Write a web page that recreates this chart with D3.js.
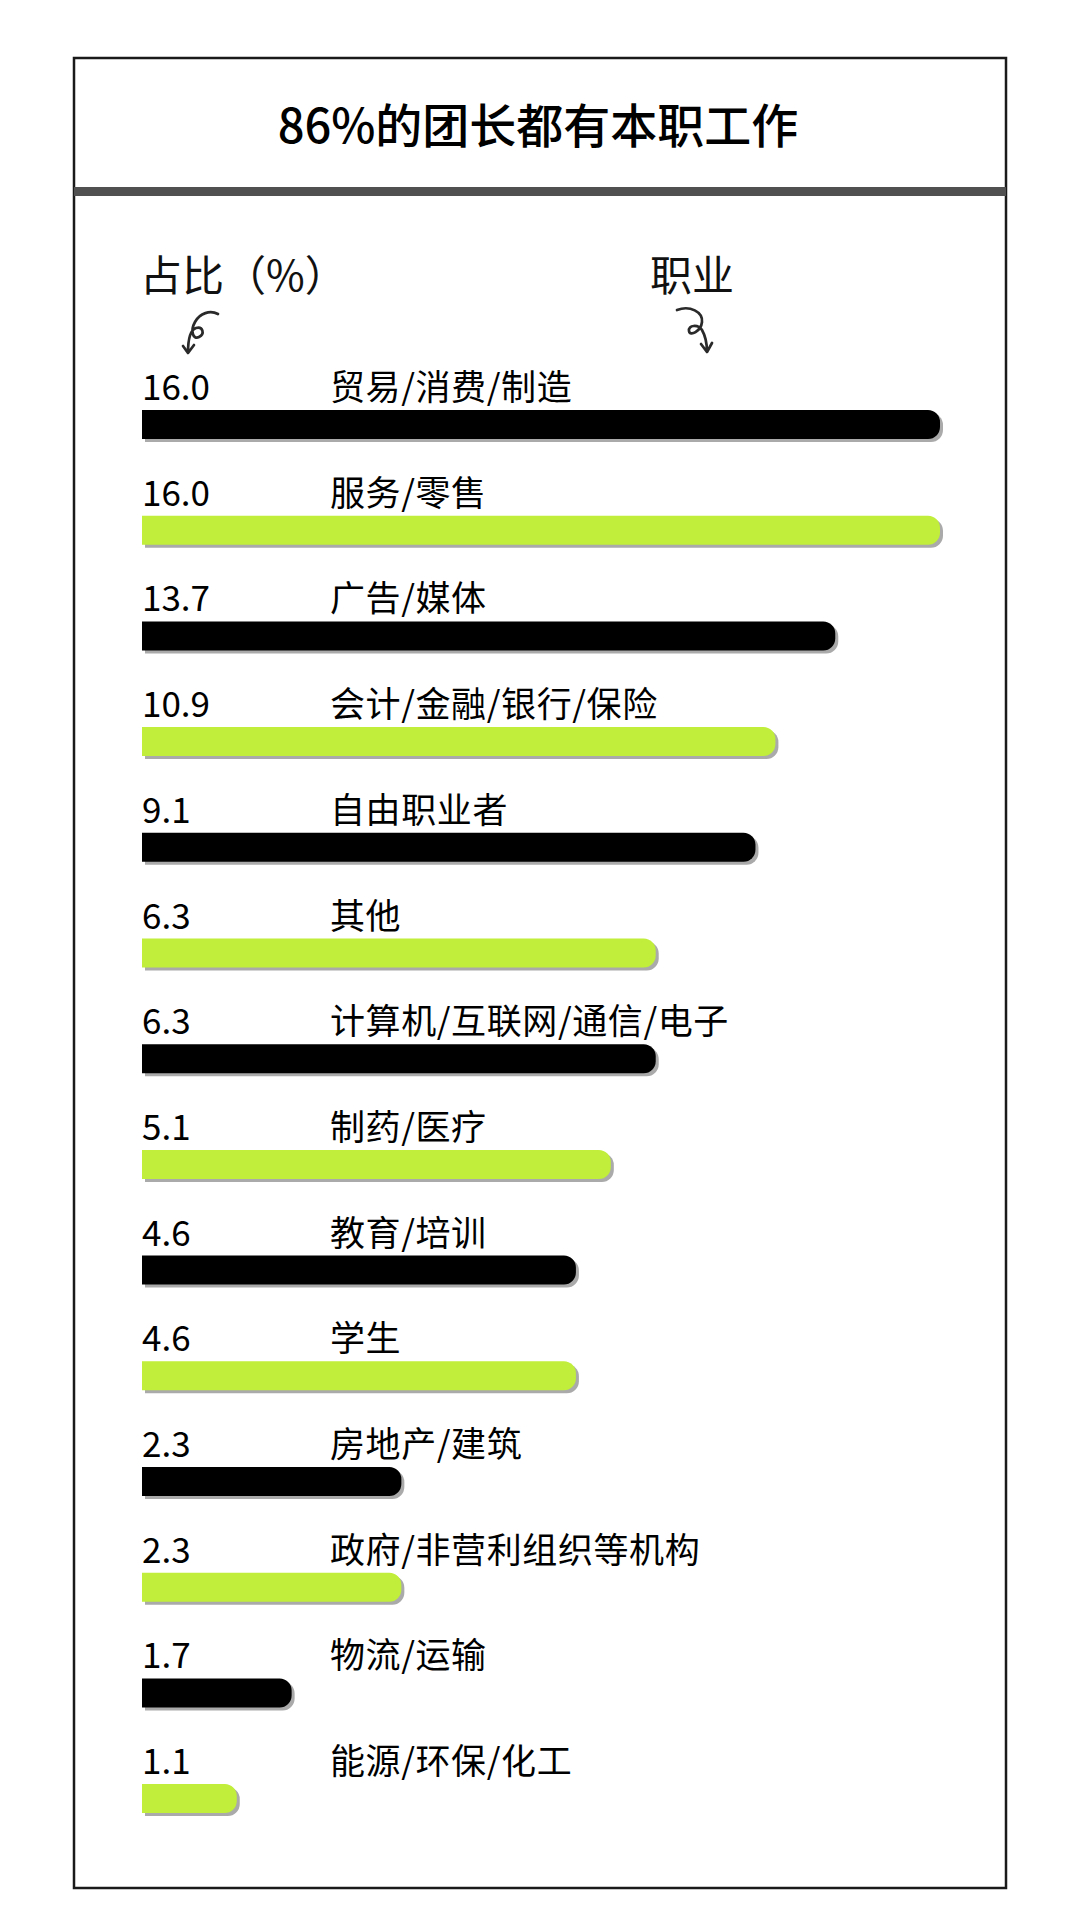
<!DOCTYPE html>
<html>
<head>
<meta charset="utf-8">
<script src="https://cdn.jsdelivr.net/npm/d3@7"></script>
<style>
  body { margin: 0; background: #fff; }
  svg { display: block; font-family: "Noto Sans CJK SC", "Noto Sans", sans-serif; }
</style>
</head>
<body>
<svg id="chart"></svg>
<script>
// occupations, top to bottom
const categories = ["贸易/消费/制造", "服务/零售", "广告/媒体", "会计/金融/银行/保险", "自由职业者", "其他",
    "计算机/互联网/通信/电子", "制药/医疗", "教育/培训", "学生", "房地产/建筑", "政府/非营利组织等机构",
    "物流/运输", "能源/环保/化工"];
// printed share (%)
const shares = [16.0, 16.0, 13.7, 10.9, 9.1, 6.3, 6.3, 5.1, 4.6, 4.6, 2.3, 2.3, 1.7, 1.1];
// length each bar is drawn to in the same % units
// (the original bars are not to scale with the printed shares)
const barValues = [16, 16, 13.9, 12.7, 12.3, 10.3, 10.3, 9.4, 8.7, 8.7, 5.2, 5.2, 3.0, 1.9];
const barColors = ["#000000", "#c0ee3a"];
const title = "86%的团长都有本职工作";
const headers = ["占比（%）", "职业"];

class Chart {

    constructor() {
        this.width = 1080;
        this.height = 1930;
        this.frame = ({left: 74, right: 1006, top: 58, bottom: 1888});
        this.barHeight = 29;

        this.data = categories.map((c, i) => ({category: c, share: shares[i], bar: barValues[i], i: i}));

        this.svg = d3.select("#chart")
            .attr("width", this.width)
            .attr("height", this.height);

        this.xScale = d3.scaleLinear()
            .domain([0, 16])
            .range([142, 940]);

        this.yScale = d3.scaleBand()
            .domain(categories)
            .range([410, 410 + 105.7 * categories.length]);

        this.drawFrame();
        this.drawHeaders();
        this.drawBars();
    }

    drawFrame() {
        let f = this.frame;
        this.svg.append("rect")
            .attr("x", f.left)
            .attr("y", f.top)
            .attr("width", f.right - f.left)
            .attr("height", f.bottom - f.top)
            .attr("fill", "none")
            .attr("stroke", "#1a1a1a")
            .attr("stroke-width", 2.5);

        // thick divider under the title
        this.svg.append("rect")
            .attr("x", f.left)
            .attr("y", 187)
            .attr("width", f.right - f.left)
            .attr("height", 9)
            .attr("fill", "#505050");

        this.svg.append("text")
            .text(title)
            .attr("x", (f.left + f.right) / 2 - 2)
            .attr("y", 143)
            .attr("text-anchor", "middle")
            .attr("font-size", 47)
            .attr("font-weight", 500)
            .attr("fill", "#000");
    }

    drawHeaders() {
        this.svg.selectAll(".header")
            .data(headers)
            .join("text")
            .attr("class", "header")
            .attr("x", (d, i) => i === 0 ? 140 : 650)
            .attr("y", 291)
            .attr("font-size", 42)
            .attr("fill", "#111")
            .text(d => d);

        // little hand drawn curly arrows
        let arrows = [
            "M218,314 C210,310 200,313 195,322 C190,331 193,340 199,337 C205,334 203,326 196,328 C190,330 188,342 188,353 M183,346 L188,353 L194,345",
            "M677,310 C690,305 703,312 702,322 C701,331 690,337 689,331 C688,325 698,324 702,330 C706,337 707,345 707,352 M701,344 L707,352 L712,343"
        ];
        this.svg.selectAll(".arrow")
            .data(arrows)
            .join("path")
            .attr("class", "arrow")
            .attr("d", d => d)
            .attr("fill", "none")
            .attr("stroke", "#2a2a2a")
            .attr("stroke-width", 2.7)
            .attr("stroke-linecap", "round")
            .attr("stroke-linejoin", "round");
    }

    // square left end, rounded right end
    barPath(d) {
        let x0 = this.xScale(0), x1 = this.xScale(d.bar);
        let y0 = this.yScale(d.category), h = this.barHeight, r = 12;
        return `M${x0},${y0} H${x1 - r} A${r},${r} 0 0 1 ${x1},${y0 + r} V${y0 + h - r} A${r},${r} 0 0 1 ${x1 - r},${y0 + h} H${x0} Z`;
    }

    drawBars() {
        let rows = this.svg.selectAll(".row")
            .data(this.data)
            .join("g")
            .attr("class", "row");

        // drop shadow
        rows.append("path")
            .attr("d", d => this.barPath(d))
            .attr("transform", "translate(3,3)")
            .attr("fill", "#aaaaaa");

        rows.append("path")
            .attr("d", d => this.barPath(d))
            .attr("fill", d => barColors[d.i % 2]);

        rows.append("text")
            .attr("x", this.xScale(0))
            .attr("y", d => this.yScale(d.category) - 10)
            .attr("font-size", 35)
            .attr("fill", "#000")
            .text(d => d.share.toFixed(1));

        rows.append("text")
            .attr("x", 330)
            .attr("y", d => this.yScale(d.category) - 10)
            .attr("font-size", 35)
            .attr("letter-spacing", 0.6)
            .attr("fill", "#000")
            .text(d => d.category);
    }
}

new Chart();
</script>
</body>
</html>
